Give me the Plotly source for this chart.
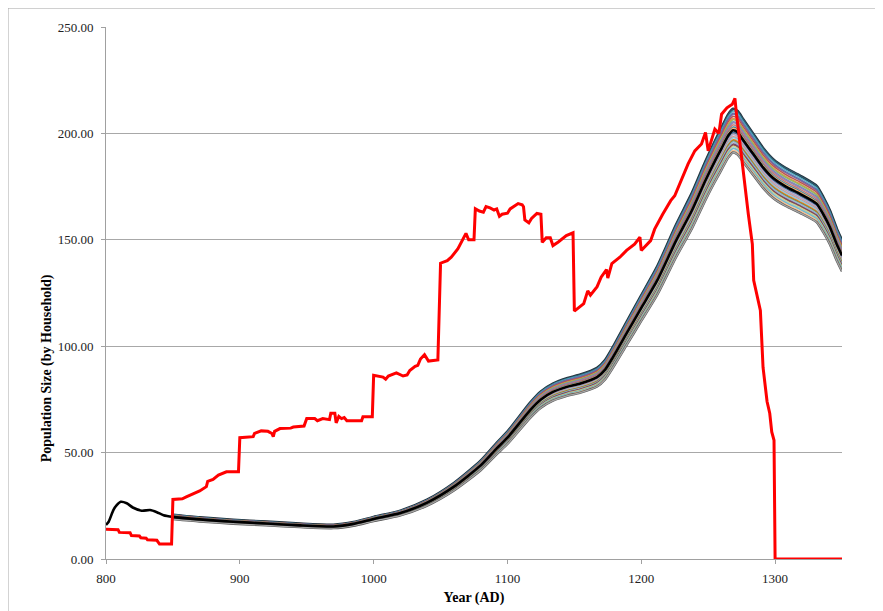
import plotly.graph_objects as go

# ---- data ----
red_years = [800, 809, 810, 818, 819, 825, 826, 830, 831, 838, 840, 849, 850, 857, 860, 866, 870, 875, 876, 880, 884, 890, 899,
             900, 910, 911, 916, 921, 924, 925, 926, 930, 938, 940, 948, 950, 956, 958, 962, 967, 968, 971, 972, 974, 976, 978,
             980, 991, 992, 999, 1000, 1007, 1009, 1011, 1017, 1022, 1025, 1027, 1031, 1033, 1035, 1038, 1041, 1048,
             1050, 1055, 1058, 1063, 1067, 1069, 1071, 1075, 1076, 1079, 1082, 1084, 1087, 1090, 1092, 1094, 1096, 1100,
             1102, 1108, 1111, 1112, 1113, 1116, 1118, 1122, 1125, 1126, 1129, 1132, 1134, 1138, 1144, 1149,
             1150, 1157, 1160, 1162, 1167, 1170, 1174, 1175, 1178, 1184, 1189, 1195, 1199, 1200, 1207, 1210, 1216,
             1222, 1225, 1230, 1235, 1240, 1245, 1248, 1250, 1255, 1258, 1260, 1264, 1268, 1270, 1271, 1274, 1278,
             1280, 1283, 1284, 1289, 1291, 1294, 1296, 1297.5, 1299.2, 1300, 1350]
red_values = [14, 13.8, 12.5, 12.3, 11, 10.8, 10, 9.8, 9, 8.8, 7, 7, 28, 28.3, 29.2, 30.7, 32, 34, 36.5, 37.4, 39.4, 41, 41,
              57, 57.5, 59, 60.2, 60, 59, 57.5, 60, 61.3, 61.5, 62, 62.5, 66, 66, 65, 66, 65.5, 68.5, 68.5, 64, 67, 66, 66.5,
              65, 65, 66.8, 66.8, 86.3, 85.5, 84.5, 86, 87.5, 86, 86.5, 88.6, 90.5, 91, 94, 96, 93, 93.5,
              139, 140.2, 141.8, 145.8, 151, 153, 150, 150, 164.6, 163.5, 163, 165.6, 165, 164, 164.5, 161, 162, 162.5,
              164.5, 167, 166.5, 165.5, 159.3, 158, 160, 162.4, 162, 148.8, 151, 151, 147.3, 149, 152, 153.3,
              116.5, 120, 126, 124, 128, 132.4, 136, 132, 138.8, 141.8, 145, 148, 151.2, 145, 149.6, 155, 162,
              168.4, 170.7, 177.8, 185.7, 191.8, 195, 200.4, 191.8, 202, 200, 209, 212, 213.7, 216.5, 210, 193, 173,
              162, 148, 131, 116.8, 90, 74, 68.5, 59.7, 55.8, 0, 0]

black_years = [800, 802, 805.5, 808, 811, 815.5, 820, 826.7, 833, 838, 843, 850, 870, 895, 920, 945, 970, 985, 1000, 1020,
               1040, 1060, 1080, 1092, 1100, 1117, 1125, 1134, 1145, 1154, 1167, 1173, 1179, 1189, 1200, 1212, 1226,
               1238, 1248, 1255, 1260, 1265, 1268.6, 1272, 1276, 1283.6, 1291, 1298.5, 1308, 1318.6, 1331, 1336, 1341,
               1346, 1350]
black_values = [16, 17.5, 23, 25.3, 26.9, 26.2, 24.2, 22.7, 23, 22, 20.6, 19.8, 18.6, 17.5, 16.7, 15.8, 15.3, 16.5, 18.8, 21.6,
                26.5, 34, 44, 52, 57, 70, 75, 78.5, 81, 82.4, 85.5, 89, 95, 106, 118, 131, 149.6,
                164, 178, 187, 193, 199, 201.5, 200.5, 197, 190.4, 184, 179, 175, 171.6, 167, 162, 155.9,
                148, 142.6]

member_peaks = [211.5, 210.5, 209.5, 209, 208, 207, 206.5, 205.5, 205, 204, 203, 202.5, 201.5, 200.5, 199.5,
                198.5, 198, 197, 196.5, 196, 195, 194.5, 194, 193, 192, 191]
member_colors = ["#2E5A6E", "#4BACC6", "#4F81BD", "#8064A2", "#C0504D", "#F79646", "#9BBB59", "#729ACA", "#9983B5",
                 "#CD7371", "#358EA6", "#F9AB6B", "#AFC97A", "#3A679C", "#B3A2C7", "#D99694", "#93CDDD", "#F3750D",
                 "#7E9D40", "#95B3D7", "#664F83", "#9F3B38", "#C3D69B", "#6FBDD1", "#FAC090", "#A6A6A6"]

y_ticks = [0, 50, 100, 150, 200, 250]
x_ticks = [800, 900, 1000, 1100, 1200, 1300]

BLACK_PEAK = max(black_values)

fig = go.Figure()

start = black_years.index(850)
mx = black_years[start:]
n = len(member_peaks)
for i, (pk, col) in enumerate(zip(member_peaks, member_colors)):
    f = pk / BLACK_PEAK
    my = [v * f for v in black_values[start:]]
    if i == 0:
        shadow, sw = "rgba(20,35,45,0.95)", 2.8
    elif i == n - 1:
        shadow, sw = "rgba(70,70,70,0.9)", 2.4
    else:
        shadow, sw = "rgba(90,90,90,0.22)", 2.0
    fig.add_trace(go.Scatter(x=mx, y=my, mode="lines", line=dict(color=shadow, width=sw, shape="spline", smoothing=0.6),
                             hoverinfo="skip", showlegend=False))
    fig.add_trace(go.Scatter(x=mx, y=my, mode="lines", line=dict(color=col, width=1.3, shape="spline", smoothing=0.6),
                             hoverinfo="skip", showlegend=False))

fig.add_trace(go.Scatter(x=black_years, y=black_values, mode="lines",
                         line=dict(color="#000000", width=2.6, shape="spline", smoothing=0.6), showlegend=False))
fig.add_trace(go.Scatter(x=red_years, y=red_values, mode="lines",
                         line=dict(color="#FF0000", width=3), showlegend=False))

axis_font = dict(family="Liberation Serif", size=13, color="#222222")
title_font = dict(family="Liberation Serif", size=14, color="#000000")

# page body has an 8px offset; margins compensate so the plot area sits at x 106-842, y 26-559
fig.update_layout(
    width=883, height=611,
    margin=dict(l=98, r=49, t=17, b=60),
    paper_bgcolor="white", plot_bgcolor="white",
    showlegend=False,
    xaxis=dict(range=[800, 1350], tickvals=x_ticks, ticktext=[str(v) for v in x_ticks],
               showgrid=False, zeroline=False, showline=True, linecolor="#A0A0A0", linewidth=1,
               ticks="outside", ticklen=4, tickcolor="#A0A0A0", tickfont=axis_font, ticklabelstandoff=3,
               title=dict(text="<b>Year (AD)</b>", font=title_font, standoff=7)),
    yaxis=dict(range=[0, 250], tickvals=y_ticks, tickformat=".2f",
               showgrid=True, gridcolor="#A8A8A8", gridwidth=1, zeroline=False,
               showline=True, linecolor="#A0A0A0", linewidth=1,
               ticks="outside", ticklen=4, tickcolor="#A0A0A0", tickfont=axis_font, ticklabelstandoff=5),
    annotations=[dict(text="<b>Population Size (by Household)</b>", font=title_font, textangle=-90,
                      xref="paper", yref="paper", x=(47 - 106) / 736, y=(559 - 368) / 533,
                      xanchor="center", yanchor="middle", showarrow=False)],
    shapes=[dict(type="rect", xref="paper", yref="paper",
                 x0=(8 - 106) / 736, x1=1.2, y0=-0.3, y1=(559 - 7) / 533,
                 line=dict(color="#A8A8A8", width=1), fillcolor="rgba(0,0,0,0)", layer="below")],
)

fig.write_html("out.html")
